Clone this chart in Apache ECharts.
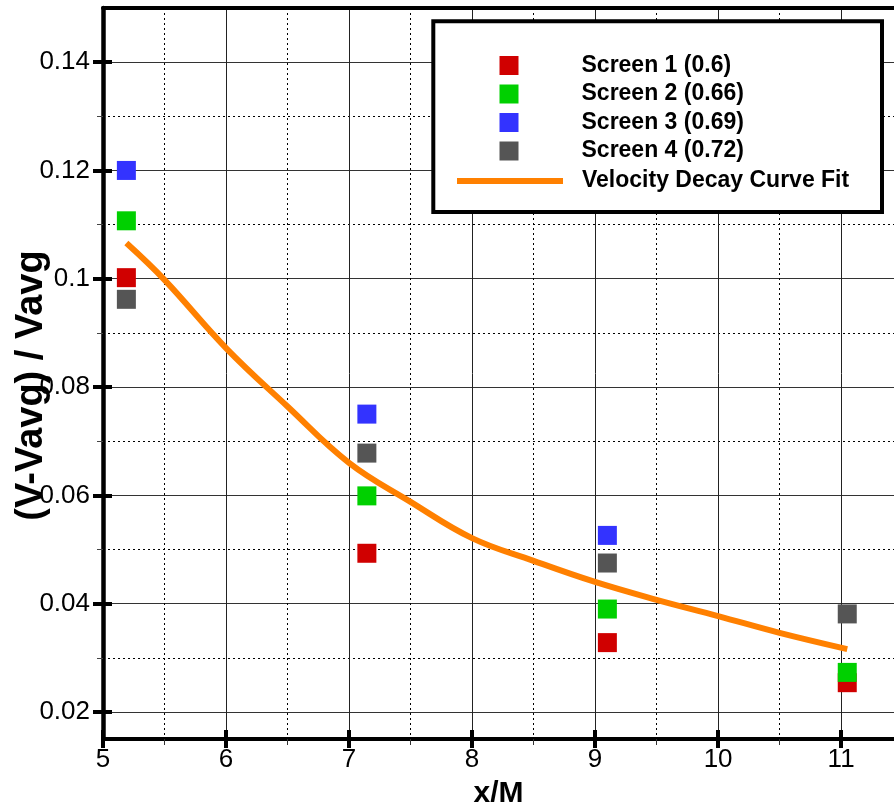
<!DOCTYPE html>
<html>
<head>
<meta charset="utf-8">
<script src="https://cdn.jsdelivr.net/npm/echarts@6/dist/echarts.min.js"></script>
<style>
  html, body { margin: 0; padding: 0; background: #fff; }
  #chart { width: 894px; height: 806px; }
</style>
</head>
<body>
<div id="chart"></div>
<script>
// x/M positions of the four measurement stations
var stations = [5.19, 7.145, 9.1, 11.05];

// (V-Vavg)/Vavg per screen (null = not visible)
var screen1 = [0.1002, 0.0493, 0.0328, 0.0254];
var screen2 = [0.1107, 0.0599, 0.0390, 0.0273];
var screen3 = [0.1200, 0.0750, 0.0526, null];
var screen4 = [0.0962, 0.0678, 0.0475, 0.0381];

// velocity decay curve fit
var fitX = [5.19, 5.5, 6, 6.5, 7, 7.5, 8, 8.5, 9, 9.5, 10, 10.5, 11.05];
var fitY = [0.1066, 0.0998, 0.0872, 0.0764, 0.0660, 0.0588, 0.0521, 0.0479, 0.0440, 0.0407, 0.0377, 0.0346, 0.0316];

var seriesNames = ['Screen 1 (0.6)', 'Screen 2 (0.66)', 'Screen 3 (0.69)', 'Screen 4 (0.72)'];
var seriesColors = ['#d00000', '#00d000', '#3333ff', '#555555'];
var fitName = 'Velocity Decay Curve Fit';

// tick positions
var xMajor = [5, 6, 7, 8, 9, 10, 11];
var xMinor = [5.5, 6.5, 7.5, 8.5, 9.5, 10.5];
var yMajor = [0.02, 0.04, 0.06, 0.08, 0.1, 0.12, 0.14];
var yMinor = [0.03, 0.05, 0.07, 0.09, 0.11, 0.13];

var xMin = 5, xMax = 11.43;
var yMin = 0.015, yMax = 0.15;
var font = 'Liberation Sans, Arial, sans-serif';

function pairs(xs, ys) {
  var out = [];
  for (var i = 0; i < xs.length; i++) {
    if (ys[i] != null) out.push([xs[i], ys[i]]);
  }
  return out;
}

var chart = echarts.init(document.getElementById('chart'));

var hidden = { show: false };
var scatterData = [screen1, screen2, screen3, screen4];
var series = scatterData.map(function (vals, i) {
  return {
    name: seriesNames[i],
    type: 'scatter',
    symbol: 'rect',
    symbolSize: 19,
    itemStyle: { color: seriesColors[i], opacity: 1 },
    data: pairs(stations, vals),
    z: 3
  };
});
series.push({
  name: fitName,
  type: 'line',
  smooth: 0.4,
  symbol: 'none',
  lineStyle: { color: '#ff8000', width: 6 },
  itemStyle: { color: '#ff8000' },
  data: pairs(fitX, fitY),
  z: 4
});

var legendText = { color: '#000', fontSize: 23, fontWeight: 'bold', fontFamily: font };

chart.setOption({
  animation: false,
  backgroundColor: '#fff',
  grid: { left: 103, right: 0, top: 8, bottom: 67, containLabel: false, outerBoundsMode: 'none' },
  xAxis: [
    {
      type: 'value', min: xMin, max: xMax, position: 'bottom',
      name: 'x/M', nameLocation: 'middle', nameGap: 40, nameMoveOverlap: false,
      nameTextStyle: { fontSize: 30, fontWeight: 'bold', color: '#000', fontFamily: font },
      axisLine: { show: true, lineStyle: { color: '#000', width: 4 } },
      axisTick: { show: true, inside: true, length: 9, customValues: xMajor, lineStyle: { color: '#000', width: 4 } },
      axisLabel: { show: true, customValues: xMajor, margin: 8, fontSize: 26, color: '#000', fontFamily: font, showMinLabel: true, showMaxLabel: true, hideOverlap: false },
      splitLine: { show: true, lineStyle: { color: '#222', width: 1 } }
    },
    {
      type: 'value', min: xMin, max: xMax, position: 'bottom',
      axisLine: hidden, axisLabel: hidden,
      axisTick: { show: true, inside: false, length: 9, customValues: xMajor, lineStyle: { color: '#000', width: 4 } },
      splitLine: hidden
    },
    {
      type: 'value', min: xMin, max: xMax, position: 'bottom',
      axisLine: hidden, axisLabel: hidden,
      axisTick: { show: true, inside: false, length: 6, customValues: xMinor, lineStyle: { color: '#333', width: 1 } },
      splitLine: { show: true, lineStyle: { color: '#000', width: 1, type: [2, 3] } }
    },
    {
      type: 'value', min: xMin, max: xMax, position: 'top',
      axisLine: { show: true, lineStyle: { color: '#000', width: 4 } },
      axisTick: hidden, axisLabel: hidden, splitLine: hidden
    }
  ],
  yAxis: [
    {
      type: 'value', min: yMin, max: yMax, position: 'left',
      name: '(V-Vavg) / Vavg', nameLocation: 'middle', nameGap: 52, nameMoveOverlap: false,
      nameTextStyle: { fontSize: 38, fontWeight: 'bold', color: '#000', fontFamily: font, padding: [0, 24, 0, 0] },
      axisLine: { show: true, lineStyle: { color: '#000', width: 4.5 } },
      axisTick: { show: true, inside: false, length: 10, customValues: yMajor, lineStyle: { color: '#000', width: 4 } },
      axisLabel: {
        show: true, customValues: yMajor, margin: 13, fontSize: 26, color: '#000', fontFamily: font,
        formatter: function (v) { return String(+v.toFixed(2)); }
      },
      splitLine: { show: true, lineStyle: { color: '#333', width: 1.2 } }
    },
    {
      type: 'value', min: yMin, max: yMax, position: 'left',
      axisLine: hidden, axisLabel: hidden,
      axisTick: { show: true, inside: true, length: 9, customValues: yMajor, lineStyle: { color: '#000', width: 4 } },
      splitLine: hidden
    },
    {
      type: 'value', min: yMin, max: yMax, position: 'left',
      axisLine: hidden, axisLabel: hidden,
      axisTick: { show: true, inside: false, length: 6, customValues: yMinor, lineStyle: { color: '#444', width: 1 } },
      splitLine: { show: true, lineStyle: { color: '#000', width: 1, type: [2, 3] } }
    }
  ],
  graphic: [
    {
      type: 'rect', z: 50,
      shape: { x: 433.3, y: 21.3, width: 448.7, height: 190.7 },
      style: { fill: '#fff', stroke: '#000', lineWidth: 4 }
    }
  ],
  legend: [
    {
      data: seriesNames, orient: 'vertical', left: 499.5, top: 54,
      itemWidth: 19, itemHeight: 19, itemGap: 5.5, selectedMode: false, z: 100,
      padding: 0, icon: 'rect',
      textStyle: Object.assign({ padding: [0, 0, 0, 58] }, legendText)
    },
    {
      data: [fitName], orient: 'vertical', left: 457, top: 169.5,
      itemWidth: 106, itemHeight: 6, selectedMode: false, z: 100, padding: 0,
      icon: 'rect', itemStyle: { color: '#ff8000' },
      textStyle: Object.assign({ padding: [0, 0, 0, 14] }, legendText)
    }
  ],
  series: series
});
</script>
</body>
</html>
